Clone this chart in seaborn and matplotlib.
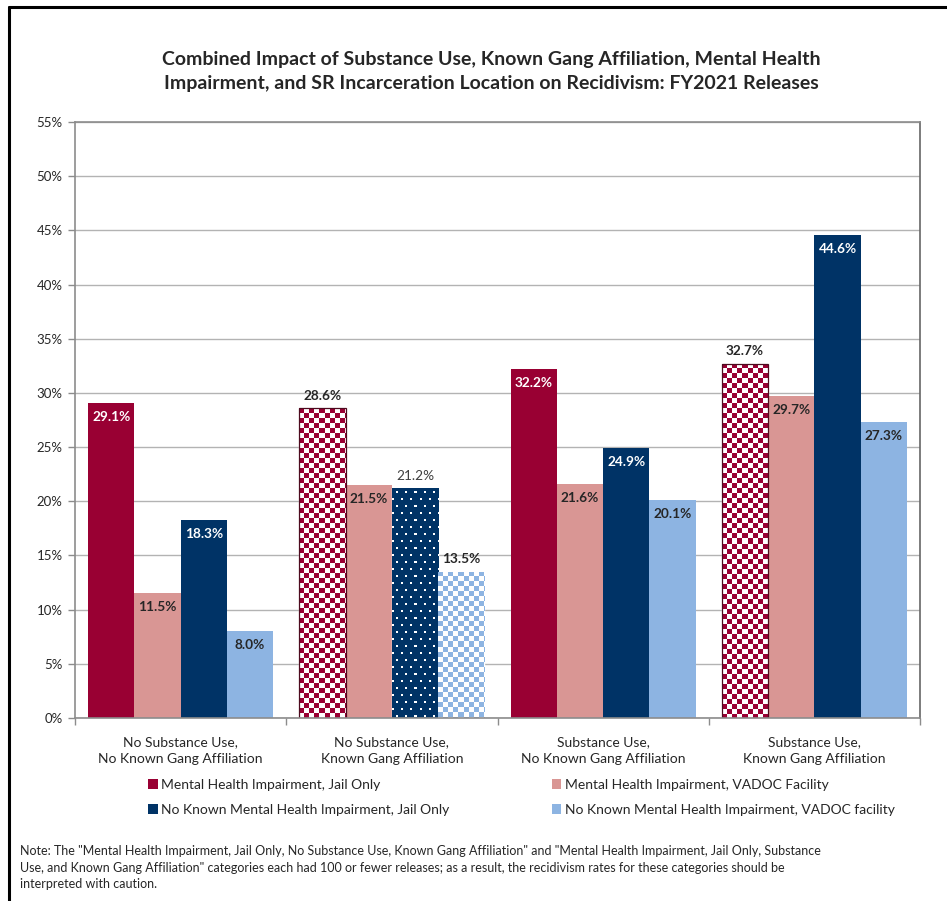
import numpy as np
import pandas as pd
import matplotlib
matplotlib.use("Agg")
import matplotlib.pyplot as plt
from matplotlib.lines import Line2D
from matplotlib.patches import Patch, Rectangle
from matplotlib.colors import to_rgb
import seaborn as sns

# ---- data ----------------------------------------------------------------
categories = [
    "No Substance Use,\nNo Known Gang Affiliation",
    "No Substance Use,\nKnown Gang Affiliation",
    "Substance Use,\nNo Known Gang Affiliation",
    "Substance Use,\nKnown Gang Affiliation",
]
series = [
    "Mental Health Impairment, Jail Only",
    "Mental Health Impairment, VADOC Facility",
    "No Known Mental Health Impairment, Jail Only",
    "No Known Mental Health Impairment, VADOC facility",
]
mh_jail = [29.1, 28.6, 32.2, 32.7]
mh_vadoc = [11.5, 21.5, 21.6, 29.7]
no_mh_jail = [18.3, 21.2, 24.9, 44.6]
no_mh_vadoc = [8.0, 13.5, 20.1, 27.3]

# small-count cells are drawn with a fill pattern
patterns = {
    (series[0], categories[1]): "check",
    (series[2], categories[1]): "dots",
    (series[3], categories[1]): "check",
    (series[0], categories[3]): "check",
}

colors = ["#990033", "#D99694", "#003366", "#8DB4E2"]
dark_fill = {colors[0], colors[2]}

title = ("Combined Impact of Substance Use, Known Gang Affiliation, Mental Health\n"
         "Impairment, and SR Incarceration Location on Recidivism: FY2021 Releases")
note = ('Note: The "Mental Health Impairment, Jail Only, No Substance Use, Known Gang Affiliation" and "Mental Health Impairment, Jail Only, Substance\n'
        'Use, and Known Gang Affiliation" categories each had 100 or fewer releases; as a result, the recidivism rates for these categories should be\n'
        'interpreted with caution.')

df = pd.DataFrame({
    "category": categories * 4,
    "series": np.repeat(series, len(categories)),
    "rate": mh_jail + mh_vadoc + no_mh_jail + no_mh_vadoc,
})

# ---- style ---------------------------------------------------------------
sns.set_style("white")
plt.rcParams["font.family"] = ["Lato", "DejaVu Sans"]
text_dark = "#262626"

W, H = 947, 901
fig = plt.figure(figsize=(W / 100, H / 100), dpi=100)
ax = fig.add_axes([75 / W, 1 - 718 / H, (920 - 75) / W, (718 - 122) / H])

sns.barplot(data=df, x="category", y="rate", hue="series",
            order=categories, hue_order=series, palette=colors,
            width=0.876, gap=0, saturation=1, errorbar=None,
            legend=False, ax=ax, zorder=2)

ax.set_xlim(-0.5, len(categories) - 0.5)
ax.set_ylim(0, 55)
ax.set_yticks(np.arange(0, 56, 5))
ax.set_yticklabels([f"{v}%" for v in range(0, 56, 5)])
ax.set_xlabel("")
ax.set_ylabel("")
ax.set_axisbelow(True)
ax.yaxis.grid(True, color="#B3B3B3", linewidth=1.0)
ax.xaxis.grid(False)
for s in ax.spines.values():
    s.set_visible(True)
    s.set_color("#8C8C8C")
    s.set_linewidth(1.2)
ax.spines["right"].set_color("#666666")
ax.tick_params(axis="y", length=5, width=1, color="#8C8C8C", direction="out",
               labelsize=9.5, labelcolor=text_dark, pad=4, left=True)
ax.set_xticks(np.arange(-0.5, len(categories), 1.0), minor=True)
ax.tick_params(axis="x", which="minor", length=5, width=1, color="#8C8C8C",
               direction="out", bottom=True)
ax.tick_params(axis="x", which="major", length=0, labelsize=10,
               labelcolor=text_dark, pad=13)
for lbl in ax.get_xticklabels():
    lbl.set_linespacing(1.5)


def pattern_image(bar, kind, fg, bg):
    """Paint a pixel pattern inside a bar, clipped to its outline."""
    x0, y0 = bar.get_x(), bar.get_y()
    w, h = bar.get_width(), bar.get_height()
    p0 = ax.transData.transform((x0, y0))
    p1 = ax.transData.transform((x0 + w, y0 + h))
    wpx = max(int(round(p1[0] - p0[0])), 1)
    hpx = max(int(round(p1[1] - p0[1])), 1)
    yy, xx = np.mgrid[0:hpx, 0:wpx]
    if kind == "check":
        mask = ((xx // 5 + yy // 5) % 2) == 0
    else:
        row = yy // 7
        mask = ((yy % 7) >= 3) & ((yy % 7) <= 4) & \
               (((xx + (row % 2) * 4) % 9 >= 4) & ((xx + (row % 2) * 4) % 9 <= 5))
    img = np.where(mask[..., None], np.array(to_rgb(fg)), np.array(to_rgb(bg)))
    im = ax.imshow(img, extent=(x0, x0 + w, y0, y0 + h), origin="upper",
                   interpolation="nearest", aspect="auto",
                   zorder=bar.get_zorder() + 0.1)
    im.set_clip_path(bar)


for s_name, color, cont in zip(series, colors, ax.containers):
    for cat, bar, val in zip(categories, cont.patches, cont.datavalues):
        kind = patterns.get((s_name, cat))
        top = bar.get_y() + bar.get_height()
        xc = bar.get_x() + bar.get_width() / 2
        if kind is None:
            bar.set_edgecolor("none")
            tcolor = "white" if color in dark_fill else text_dark
            ax.annotate(f"{val:.1f}%", (xc, top), xytext=(0, -10),
                        textcoords="offset points", ha="center", va="center",
                        fontsize=9.8, fontweight="bold", color=tcolor, zorder=5)
        else:
            if kind == "check":
                pattern_image(bar, "check", color, "white")
            else:
                pattern_image(bar, "dots", "white", color)
            if color == colors[0]:
                ax.add_patch(Rectangle((bar.get_x(), bar.get_y()), bar.get_width(),
                                       bar.get_height(), fill=False,
                                       edgecolor="#4d0a1e", linewidth=0.9,
                                       zorder=bar.get_zorder() + 0.2))
            weight = "normal" if kind == "dots" else "bold"
            tcolor = "#404040" if kind == "dots" else text_dark
            ax.annotate(f"{val:.1f}%", (xc, top), xytext=(0, 9),
                        textcoords="offset points", ha="center", va="center",
                        fontsize=9.8, fontweight=weight, color=tcolor, zorder=5)

ax.set_xlim(-0.5, len(categories) - 0.5)
ax.set_ylim(0, 55)

# legend: two columns, row-major reading order
handles = [Patch(facecolor=c, edgecolor="none") for c in colors]
order = [0, 2, 1, 3]
leg = fig.legend([handles[i] for i in order], [series[i] for i in order],
                 ncol=2, loc="upper left", bbox_to_anchor=(148 / W, 1 - 779 / H),
                 frameon=False, fontsize=10, handlelength=0.7, handleheight=0.7,
                 handletextpad=0.25, columnspacing=7.35, labelspacing=0.95,
                 borderpad=0, borderaxespad=0)
for t in leg.get_texts():
    t.set_color(text_dark)

fig.text(491 / W, 1 - 71 / H, title, ha="center", va="center", fontsize=14,
         fontweight="bold", color=text_dark, linespacing=1.5)
fig.text(20 / W, 1 - 845 / H, note, ha="left", va="top", fontsize=9.0,
         color=text_dark, linespacing=1.45)

# outer frame (left and top edges)
fig.add_artist(Line2D([9 / W, 9 / W], [0, 1 - 7 / H], transform=fig.transFigure,
                      color="black", linewidth=2.2))
fig.add_artist(Line2D([9 / W, 1], [1 - 7 / H, 1 - 7 / H], transform=fig.transFigure,
                      color="black", linewidth=2.2))

fig.savefig("out.png", dpi=100, facecolor="white")
